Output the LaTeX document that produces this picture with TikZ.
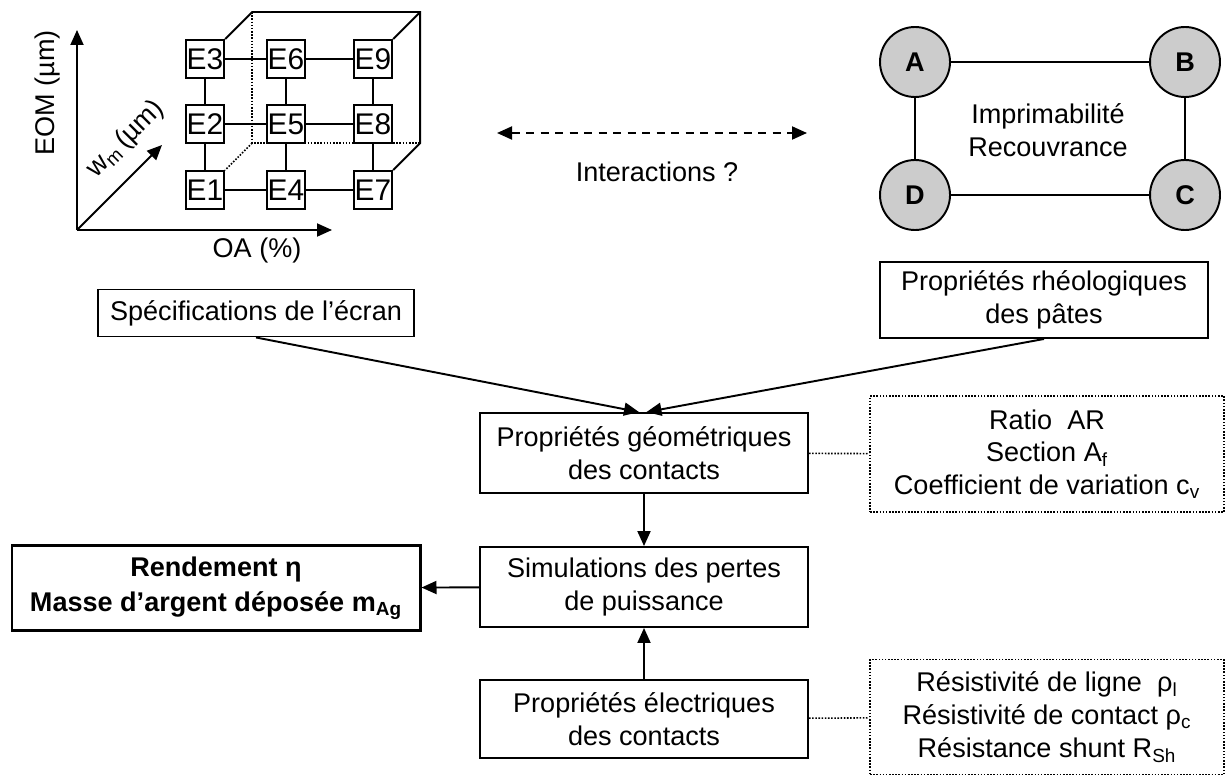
\documentclass[tikz,border=0pt]{standalone}
\usepackage{fontspec}
\setmainfont{Liberation Sans}
\usepackage{tikz}
\usetikzlibrary{arrows.meta}

\definecolor{circlegray}{gray}{0.8}
\newcommand{\basesize}{\fontsize{15.4}{18.7}\selectfont}

\begin{document}
\begin{tikzpicture}[line width=1.1pt, font=\basesize,
    >={Triangle[length=3mm, width=2.6mm]},
    propbox/.style  = {draw, align=center, minimum width=6.56cm, minimum height=1.6cm},
    listbox/.style  = {draw, dots, align=center, minimum width=7.08cm, minimum height=2.32cm},
    dots/.style     = {line width=0.9pt, dash pattern=on 0.9pt off 0.9pt}]
    \useasboundingbox (0,0) rectangle (24.52,-15.62);

    \coordinate (origin) at (1.54,-4.60);
    \coordinate (eomend) at (1.54,-0.60);
    \coordinate (oaend)  at (6.64,-4.60);
    \coordinate (wmend)  at (3.24,-2.90);
    \draw[->] (origin) -- (eomend);
    \draw[->] (origin) -- (oaend);
    \draw[->] (origin) -- (wmend);
    \node[rotate=90] (eom) at (0.96,-1.86) {EOM (µm)};
    \node            (oa)  at (5.14,-5.00) {OA (\%)};
    \node[rotate=45] (wm)  at (2.52,-2.78) {w\textsubscript{m}\,(µm)};

    \begin{scope}[every node/.style = {draw, fill=white, inner sep=0.5pt,
        minimum width=0.74cm, minimum height=0.76cm, font=\fontsize{17}{19}\selectfont}]
      \node (e1) at (4.10,-3.80) {E1};
      \node (e2) at (4.10,-2.48) {E2};
      \node (e3) at (4.10,-1.18) {E3};
      \node (e4) at (5.72,-3.80) {E4};
      \node (e5) at (5.72,-2.48) {E5};
      \node (e6) at (5.72,-1.18) {E6};
      \node (e7) at (7.46,-3.80) {E7};
      \node (e8) at (7.46,-2.48) {E8};
      \node (e9) at (7.46,-1.18) {E9};
    \end{scope}
    \foreach \a/\b in {e1/e4, e4/e7, e2/e5, e5/e8, e3/e6, e6/e9,
                       e1/e2, e2/e3, e4/e5, e5/e6, e7/e8, e8/e9}
      \draw (\a) -- (\b);
    \coordinate (backbl) at ([shift={(0.54,0.54)}]e1.north east);
    \coordinate (backtl) at ([shift={(0.54,0.54)}]e3.north east);
    \coordinate (backtr) at ([shift={(0.54,0.54)}]e9.north east);
    \coordinate (backbr) at ([shift={(0.54,0.54)}]e7.north east);
    \draw (e3.north east) -- (backtl) -- (backtr) -- (backbr) -- (e7.north east);
    \draw (backtr) -- (e9.north east);
    \draw[dots] (backtl) -- (backbl) -- (backbr);
    \draw[dots] (backbl) -- (e1.north east);

    \coordinate (interl) at (9.94,-2.66);
    \coordinate (interr) at (16.14,-2.66);
    \draw[<->, dash pattern=on 1.6mm off 1.3mm] (interl) -- (interr);
    \node (inter) at (13.14,-3.44) {Interactions ?};

    \begin{scope}[every node/.style = {circle, draw, fill=circlegray, minimum size=1.4cm,
        inner sep=0pt, font=\basesize\bfseries}]
      \node (ca) at (18.30,-1.24) {A};
      \node (cb) at (23.70,-1.24) {B};
      \node (cc) at (23.70,-3.90) {C};
      \node (cd) at (18.30,-3.90) {D};
    \end{scope}
    \draw (ca) -- (cb) -- (cc) -- (cd) -- (ca);
    \node[align=center] (print) at (20.96,-2.60) {Imprimabilité\\Recouvrance};

    \node[draw, minimum width=6.32cm, minimum height=0.94cm] (spec) at (5.12,-6.26)
      {Spécifications de l’écran};
    \node[propbox, minimum height=1.52cm] (rheo) at (20.88,-6.00)
      {Propriétés rhéologiques\\des pâtes};
    \node[propbox] (geom) at (12.88,-9.06) {Propriétés géométriques\\des contacts};
    \node[propbox] (sim)  at (12.88,-11.74) {Simulations des pertes\\de puissance};
    \node[propbox, minimum height=1.56cm] (elec) at (12.88,-14.38)
      {Propriétés électriques\\des contacts};
    \node[draw, line width=1.7pt, align=center, minimum width=8.16cm, minimum height=1.7cm,
          font=\fontsize{15.4}{20}\selectfont\bfseries] (result) at (4.32,-11.76)
      {Rendement η\\Masse d’argent déposée m\textsubscript{Ag}};
    \node[listbox] (ratio) at (20.94,-9.08)
      {Ratio\ \ AR\\Section A\textsubscript{f}\\Coefficient de variation c\textsubscript{v}};
    \node[listbox, minimum height=2.30cm] (resist) at (20.94,-14.34)
      {Résistivité de ligne\ \ ρ\textsubscript{l}\\Résistivité de contact ρ\textsubscript{c}\\Résistance shunt R\textsubscript{Sh}};

    \draw[->] (spec.south) -- ([xshift=-1mm]geom.north);
    \draw[->] (rheo.south) -- ([xshift=0.5mm]geom.north);
    \draw[->] (geom) -- (sim);
    \draw[->] (elec) -- (sim);
    \draw[->] (sim) -- (result);
    \draw[dots] (geom) -- (ratio);
    \draw[dots] (elec) -- (resist);
  \end{tikzpicture}
\end{document}
